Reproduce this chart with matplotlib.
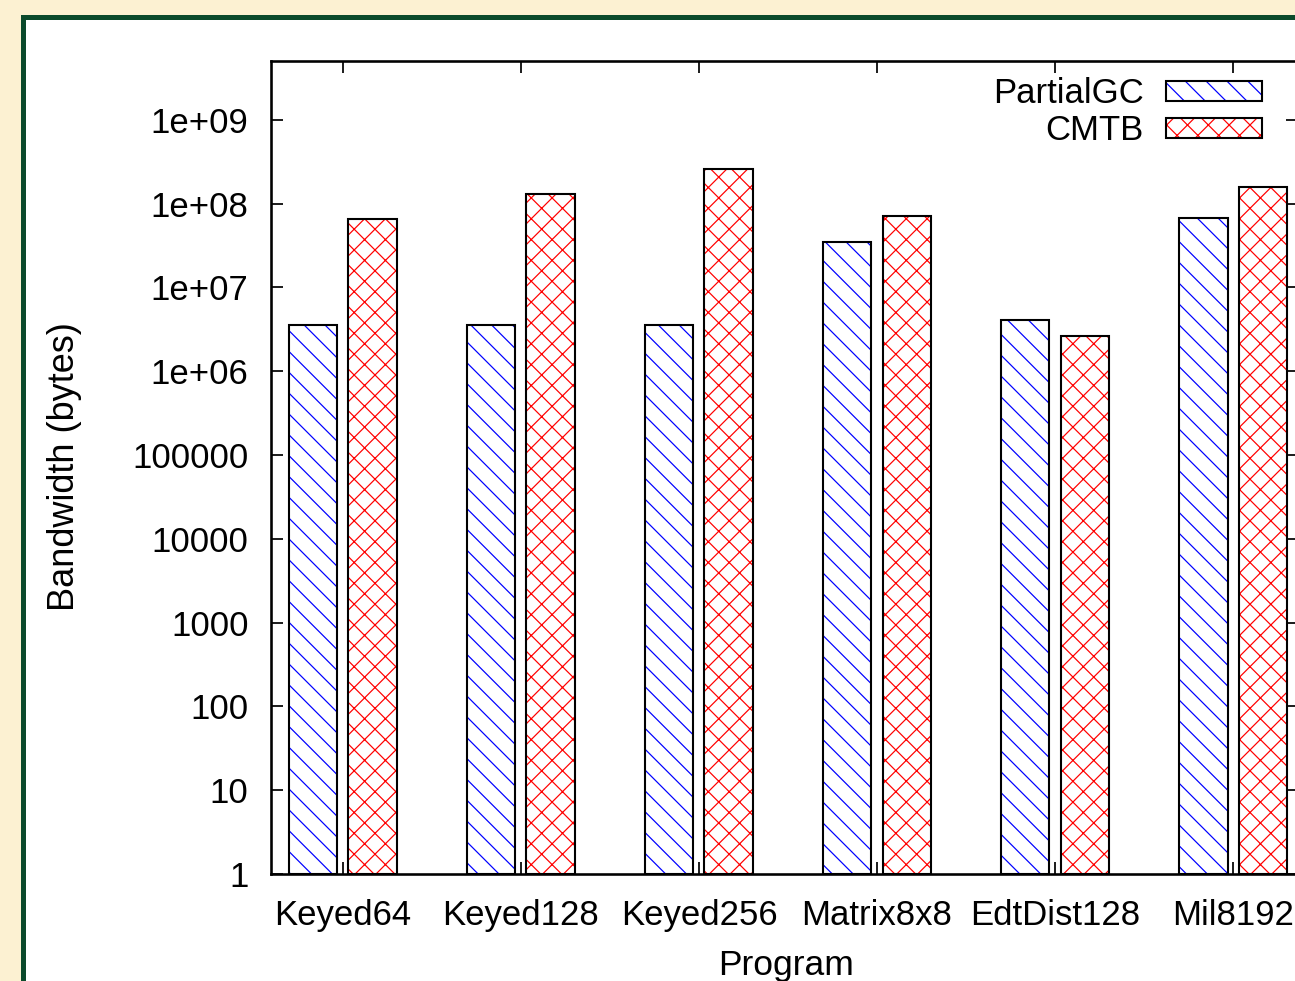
import numpy as np
import matplotlib
matplotlib.use('Agg')
import matplotlib.pyplot as plt
from matplotlib.patches import Rectangle, Patch
from matplotlib.ticker import FixedLocator, NullLocator

programs = ['Keyed64', 'Keyed128', 'Keyed256', 'Matrix8x8', 'EdtDist128', 'Mil8192']
partialgc = [3.56e6, 3.56e6, 3.56e6, 3.48e7, 4.08e6, 6.73e7]
cmtb = [6.55e7, 1.30e8, 2.59e8, 7.11e7, 2.63e6, 1.58e8]
ytick_vals = [1, 10, 100, 1000, 1e4, 1e5, 1e6, 1e7, 1e8, 1e9]
ytick_labels = ['1', '10', '100', '1000', '10000', '100000', '1e+06', '1e+07', '1e+08', '1e+09']

DPI = 125
W, H = 1295, 981
plt.rcParams['font.family'] = ['Liberation Sans', 'DejaVu Sans']
plt.rcParams['hatch.linewidth'] = 0.7
FS = 25 * 100 / DPI

fig = plt.figure(figsize=(W / DPI, H / DPI), dpi=DPI)
fig.patch.set_facecolor('#fcf1d2')

# white panel with green border
panel = Rectangle((22.5 / W, -0.1), 1.2, 1 - 17.5 / H + 0.1,
                  transform=fig.transFigure, facecolor='white',
                  edgecolor='#0b4a2b', linewidth=5 * 72 / DPI, zorder=-5)
fig.patches.append(panel)

ax = fig.add_axes([271 / W, 1 - 874 / H, (1298 - 271) / W, (874 - 61) / H])
ax.set_facecolor('none')
ax.set_yscale('log')
ax.set_ylim(1, 10 ** ((874 - 61) / 83.8))
ax.set_xlim(-0.404, 5.365)

x = np.arange(len(programs))
bw = 0.27
off = 0.166
ax.bar(x - off, partialgc, bw, bottom=1, facecolor='white', edgecolor='blue', hatch='\\\\', linewidth=0)
ax.bar(x - off, partialgc, bw, bottom=1, facecolor='none', edgecolor='black', linewidth=1.2)
ax.bar(x + off, cmtb, bw, bottom=1, facecolor='white', edgecolor='red', hatch='xx', linewidth=0)
ax.bar(x + off, cmtb, bw, bottom=1, facecolor='none', edgecolor='black', linewidth=1.2)

ax.yaxis.set_major_locator(FixedLocator(ytick_vals))
ax.set_yticklabels(ytick_labels)
ax.yaxis.set_minor_locator(NullLocator())
ax.set_xticks(x)
ax.set_xticklabels(programs)
ax.tick_params(axis='both', direction='in', length=12 * 72 / DPI, width=1.0,
               labelsize=FS, top=True, right=True)
ax.tick_params(axis='y', pad=13)
ax.tick_params(axis='x', pad=14.5)
for s in ax.spines.values():
    s.set_linewidth(1.5)

fig.text(786 / W, 1 - 975 / H, 'Program', ha='center', va='baseline', fontsize=FS * 1.02)
fig.text(65 / W, 1 - 467 / H, 'Bandwidth (bytes)', ha='center', va='center',
         rotation=90, fontsize=FS * 1.04)

handles = [Patch(facecolor='white', edgecolor='blue', hatch='\\\\', linewidth=0),
           Patch(facecolor='white', edgecolor='red', hatch='xx', linewidth=0)]
leg = ax.legend(handles, ['PartialGC', 'CMTB'], loc='upper right',
                bbox_to_anchor=(1262 / W, 1 - 77 / H), bbox_transform=fig.transFigure,
                frameon=False, markerfirst=False, fontsize=FS, borderpad=0,
                borderaxespad=0, handlelength=2.77, handleheight=0.5,
                handletextpad=0.63, labelspacing=0.12)

# black outlines over legend swatches
fig.canvas.draw()
for p in leg.get_patches():
    bb = p.get_window_extent()
    fig.patches.append(Rectangle((bb.x0 / W, bb.y0 / H), bb.width / W, bb.height / H,
                                 transform=fig.transFigure, facecolor='none',
                                 edgecolor='black', linewidth=1.2, zorder=5))

fig.savefig('out.png', dpi=DPI)
